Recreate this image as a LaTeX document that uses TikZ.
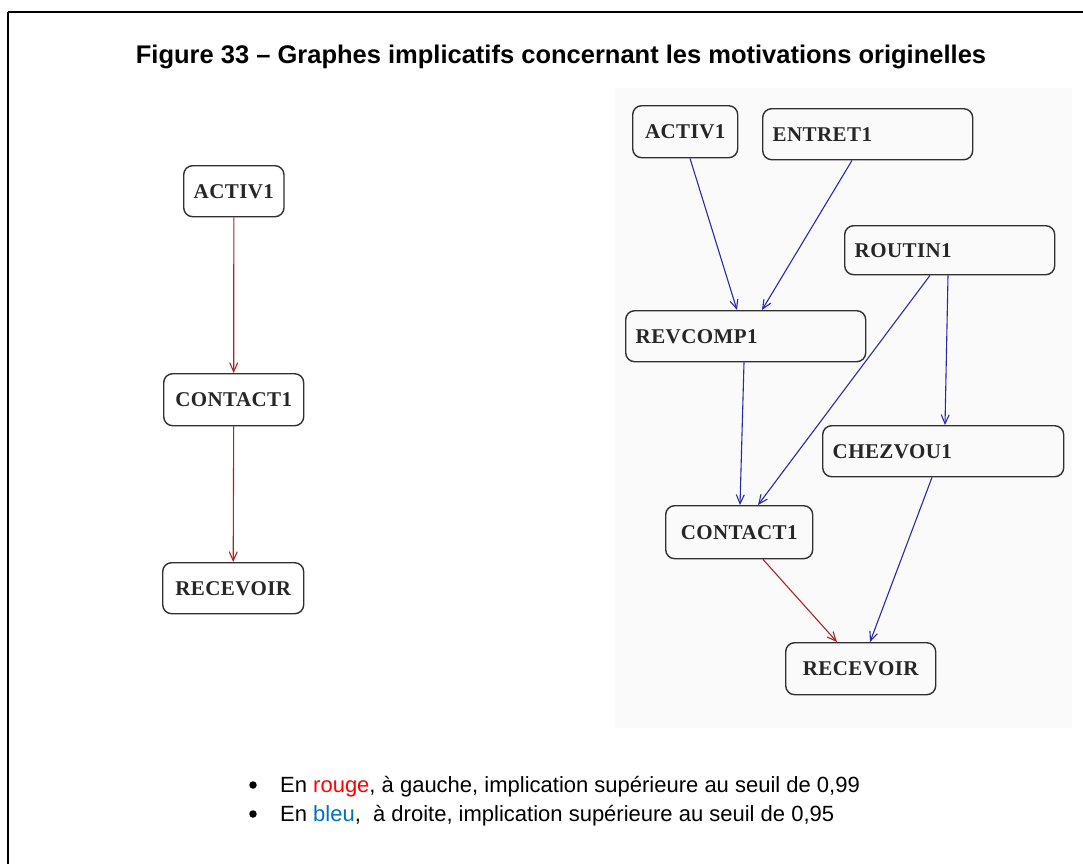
\documentclass[tikz,border=0pt]{standalone}
\usepackage{fontspec}
\setmainfont{Liberation Sans}
\newfontfamily\nodefont{Liberation Serif}[LetterSpace=2]
\usetikzlibrary{arrows.meta}
\definecolor{edgeblue}{HTML}{2A2AA8}
\definecolor{edgered}{HTML}{B0202A}
\definecolor{legred}{HTML}{FF0000}
\definecolor{legblue}{HTML}{0070C0}
\definecolor{boxline}{HTML}{303030}
\tikzset{
  gbox/.style={draw=boxline, line width=1.4pt, rounded corners=9pt, anchor=north west,
    inner xsep=10pt, inner ysep=0pt, font=\nodefont\bfseries\fontsize{21}{21}\selectfont,
    text=black!85},
  bluearrow/.style={draw=edgeblue, line width=1.1pt, -{Straight Barb[length=9pt,width=8pt,line width=1.1pt]}},
  redarrow/.style={draw=edgered, line width=1.1pt, -{Straight Barb[length=9pt,width=8pt,line width=1.1pt]}},
  legtext/.style={anchor=base west, inner sep=0pt, font=\fontsize{22}{22}\selectfont},
  bullet/.style={circle, fill=black, inner sep=0pt, minimum size=7.5pt}
}
\begin{document}
\begin{tikzpicture}[x=1pt,y=-1pt]
\useasboundingbox (0,0) rectangle (1083,863);
\fill[white] (0,0) rectangle (1083,863);
% frame
\draw[line width=1.5pt] (8,12) -- (1090,12);
\draw[line width=1.5pt] (8,12) -- (8,870);
% pasted image background
\fill[black!2] (615,88) rectangle (1072,728);
% title
\node[anchor=base, inner sep=0pt, font=\bfseries\fontsize{25.5}{25.5}\selectfont] (title) at (561,63)
  {Figure 33 -- Graphes implicatifs concernant les motivations originelles};

% left graph
\node[gbox, minimum width=99pt, minimum height=51pt, align=center] (la) at (183,165) {ACTIV1};
\node[gbox, minimum width=140pt, minimum height=52pt, align=center] (lc) at (163,373) {CONTACT1};
\node[gbox, minimum width=141pt, minimum height=51pt, align=center] (lr) at (162,562) {RECEVOIR};
\draw[redarrow] (la.south) -- (lc.north);
\draw[redarrow] (lc.south) -- (lr.north);

% right graph
\node[gbox, minimum width=105pt, minimum height=52pt, align=center] (ra) at (632,105) {ACTIV1};
\node[gbox, minimum width=210pt, minimum height=51pt, text width=190pt, align=left] (re) at (762,108) {ENTRET1};
\node[gbox, minimum width=210pt, minimum height=49pt, text width=190pt, align=left] (rr) at (844,225) {ROUTIN1};
\node[gbox, minimum width=240pt, minimum height=51pt, text width=220pt, align=left] (rv) at (625,310) {REVCOMP1};
\node[gbox, minimum width=241pt, minimum height=51pt, text width=221pt, align=left] (rz) at (822,425) {CHEZVOU1};
\node[gbox, minimum width=147pt, minimum height=53pt, align=center] (rc) at (665,505) {CONTACT1};
\node[gbox, minimum width=150pt, minimum height=52pt, align=center] (rd) at (785,642) {RECEVOIR};

\draw[bluearrow] ([xshift=58pt]ra.south west) -- ([xshift=112pt]rv.north west);
\draw[bluearrow] ([xshift=90pt]re.south west) -- ([xshift=137pt]rv.north west);
\draw[bluearrow] ([xshift=86pt]rr.south west) -- ([xshift=93pt]rc.north west);
\draw[bluearrow] ([xshift=104pt]rr.south west) -- ([xshift=123pt]rz.north west);
\draw[bluearrow] ([xshift=119pt]rv.south west) -- ([xshift=75pt]rc.north west);
\draw[bluearrow] ([xshift=110pt]rz.south west) -- ([xshift=85pt]rd.north west);
\draw[redarrow] ([xshift=98pt]rc.south west) -- ([xshift=52pt]rd.north west);

% legend
\node[bullet] (b1) at (253,785) {};
\node[bullet] (b2) at (253,814) {};
\node[legtext] (l1) at (280,792) {En \textcolor{legred}{rouge}, à gauche, implication supérieure au seuil de 0,99};
\node[legtext] (l2) at (280,821) {En \textcolor{legblue}{bleu},\ \ à droite, implication supérieure au seuil de 0,95};
\end{tikzpicture}
\end{document}
